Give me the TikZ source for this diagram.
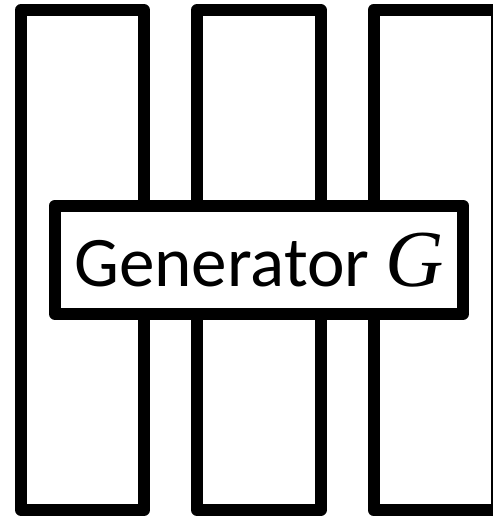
\documentclass[tikz,border=0pt]{standalone}
\usepackage{fontspec}
\setmainfont{Carlito}
\newfontfamily\genmath{Liberation Serif}
\usepackage{tikz}
\usetikzlibrary{positioning}
\tikzset{
  slab/.style={draw=black,line width=0.24cm,line join=round},
  genbox/.style={draw=black,fill=white,line width=0.24cm,line join=round,
    minimum width=8.16cm,minimum height=2.17cm,inner sep=0pt,
    font=\fontsize{40.5}{48}\selectfont}
}
\newcommand{\slabrect}[2]{\draw[slab] #1 rectangle #2;}

\begin{document}
\begin{tikzpicture}[x=0.02cm,y=-0.02cm]
\clip (0,0) rectangle (493,517);
\fill[white] (0,0) rectangle (493,517);
% three tall slabs
\slabrect{(21,10)}{(144,510)}
\slabrect{(197,10)}{(320.5,510)}
\slabrect{(373.5,10)}{(497,510)}
% generator across them
\node[genbox] (gen) at (259,259.75) {Generator {\genmath\itshape\fontsize{46}{48}\selectfont G}};
\end{tikzpicture}
\end{document}
